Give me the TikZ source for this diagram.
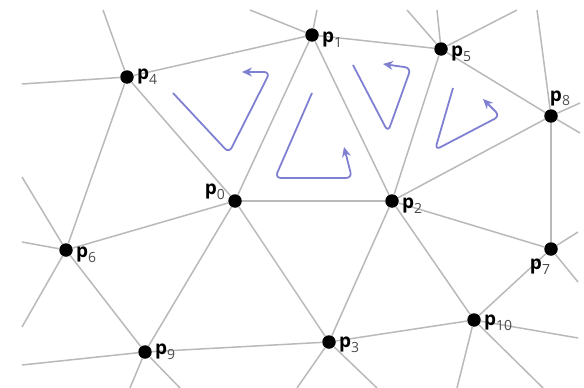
\documentclass[tikz,border=0pt]{standalone}
\usepackage{fontspec}
\setmainfont{Open Sans}
\usetikzlibrary{arrows.meta,positioning}
\definecolor{loopblue}{RGB}{128,128,210}
\definecolor{edgegray}{RGB}{185,185,185}
\newcommand\plab[1]{\textbf{p}\raisebox{-0.45ex}{\fontsize{14}{14}\selectfont\color{black!70}#1}}

\begin{document}
\begin{tikzpicture}[x=1pt,y=-1pt,dot/.style={circle,fill=black,inner sep=0pt,minimum size=13.5pt},edge/.style={draw=edgegray,line width=1.5pt},lab/.style={font=\fontsize{19}{19}\selectfont,inner sep=1pt},turn/.style={draw=loopblue,line width=1.8pt,rounded corners=6pt,-{Stealth[length=10pt,width=9pt]}}]
\useasboundingbox (0,0) rectangle (584,388);
% mesh vertices
\node[dot] (p0) at (235,201) {};
\node[dot] (p1) at (312,35) {};
\node[dot] (p2) at (392,201) {};
\node[dot] (p3) at (329,342) {};
\node[dot] (p4) at (127,77) {};
\node[dot] (p5) at (441,49) {};
\node[dot] (p6) at (66,250) {};
\node[dot] (p7) at (551,249) {};
\node[dot] (p8) at (551,116) {};
\node[dot] (p9) at (145,352) {};
\node[dot] (p10) at (474,320) {};
% loose ends at the border
\coordinate (a1) at (103,10); \coordinate (a2) at (22,84);
\coordinate (b1) at (250,10); \coordinate (b2) at (317,10);
\coordinate (c1) at (407,10); \coordinate (c2) at (437,10); \coordinate (c3) at (517,10);
\coordinate (d1) at (537,10); \coordinate (d2) at (580,103); \coordinate (d3) at (580,133);
\coordinate (e1) at (578,232); \coordinate (e2) at (578,282);
\coordinate (f1) at (578,338); \coordinate (f2) at (457,388); \coordinate (f3) at (543,388);
\coordinate (g1) at (297,388); \coordinate (g2) at (377,388);
\coordinate (h1) at (22,365); \coordinate (h2) at (130,388); \coordinate (h3) at (180,388);
\coordinate (i1) at (22,177); \coordinate (i2) at (22,242); \coordinate (i3) at (22,327);
% edges
\draw[edge] (p0)--(p1); \draw[edge] (p0)--(p2); \draw[edge] (p1)--(p2);
\draw[edge] (p0)--(p4); \draw[edge] (p1)--(p4); \draw[edge] (p1)--(p5);
\draw[edge] (p2)--(p5); \draw[edge] (p2)--(p8); \draw[edge] (p5)--(p8);
\draw[edge] (p8)--(p7); \draw[edge] (p2)--(p7); \draw[edge] (p2)--(p10);
\draw[edge] (p2)--(p3); \draw[edge] (p0)--(p3); \draw[edge] (p3)--(p10);
\draw[edge] (p0)--(p9); \draw[edge] (p9)--(p3); \draw[edge] (p0)--(p6);
\draw[edge] (p6)--(p9); \draw[edge] (p4)--(p6); \draw[edge] (p7)--(p10);
\draw[edge] (p4)--(a1); \draw[edge] (p4)--(a2);
\draw[edge] (p1)--(b1); \draw[edge] (p1)--(b2);
\draw[edge] (p5)--(c1); \draw[edge] (p5)--(c2); \draw[edge] (p5)--(c3);
\draw[edge] (p8)--(d1); \draw[edge] (p8)--(d2); \draw[edge] (p8)--(d3);
\draw[edge] (p7)--(e1); \draw[edge] (p7)--(e2);
\draw[edge] (p10)--(f1); \draw[edge] (p10)--(f2); \draw[edge] (p10)--(f3);
\draw[edge] (p3)--(g1); \draw[edge] (p3)--(g2);
\draw[edge] (p9)--(h1); \draw[edge] (p9)--(h2); \draw[edge] (p9)--(h3);
\draw[edge] (p6)--(i1); \draw[edge] (p6)--(i2); \draw[edge] (p6)--(i3);
% orientation of the faces
\draw[turn] (173,93)--(229,153)--(270,72)--(242,72);
\draw[turn] (312,93)--(275,178)--(352,178)--(344,147);
\draw[turn] (353,65)--(388,132)--(411,68)--(383,64);
\draw[turn] (453,88)--(435,150)--(500,116)--(483,99);
% labels
\node[lab,left=2pt of p0,yshift=9pt] (l0) {\plab{0}};
\node[lab,right=2pt of p1,yshift=-5pt] (l1) {\plab{1}};
\node[lab,right=2pt of p2,yshift=-5pt] (l2) {\plab{2}};
\node[lab,right=2pt of p3,yshift=-3pt] (l3) {\plab{3}};
\node[lab,right=2pt of p4] (l4) {\plab{4}};
\node[lab,right=2pt of p5,yshift=-5pt] (l5) {\plab{5}};
\node[lab,right=2pt of p6,yshift=-5pt] (l6) {\plab{6}};
\node[lab,below=2pt of p7,xshift=-11pt] (l7) {\plab{7}};
\node[lab,above=2pt of p8,xshift=9pt] (l8) {\plab{8}};
\node[lab,right=2pt of p9] (l9) {\plab{9}};
\node[lab,right=2pt of p10,yshift=-3pt] (l10) {\plab{10}};
\end{tikzpicture}
\end{document}
